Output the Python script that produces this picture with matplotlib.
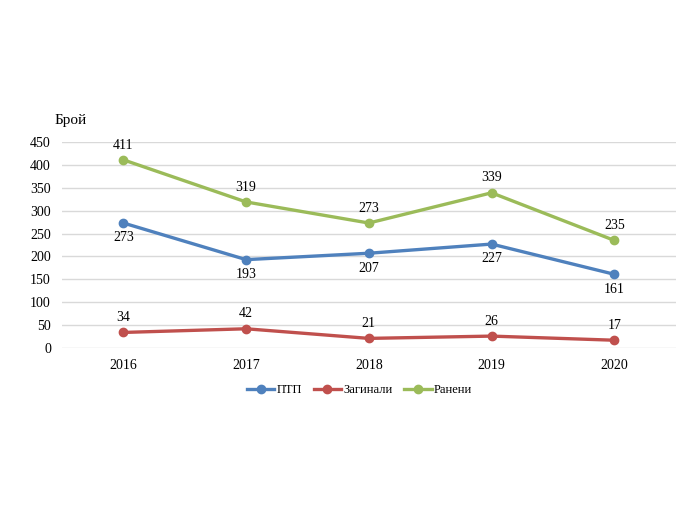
import matplotlib.pyplot as plt
import numpy as np

plt.rcParams['font.family'] = ['Liberation Serif', 'DejaVu Serif']

years = ['2016', '2017', '2018', '2019', '2020']
ptp = [273, 193, 207, 227, 161]
zaginali = [34, 42, 21, 26, 17]
raneni = [411, 319, 273, 339, 235]

fig = plt.figure(figsize=(6.86, 5.12), dpi=100)
ax = fig.add_axes([0.0904, 0.3203, 0.8946, 0.4024])

x = np.arange(len(years))
series = [
    (ptp, 'ПТП', '#4F81BD', 'below'),
    (zaginali, 'Загинали', '#C0504D', 'above'),
    (raneni, 'Ранени', '#9BBB59', 'above'),
]
for vals, name, col, pos in series:
    ax.plot(x, vals, color=col, lw=2.4, marker='o', ms=6, label=name)
    for xi, v in zip(x, vals):
        if pos == 'above':
            ax.annotate(str(v), (xi, v), xytext=(0, 6), textcoords='offset points',
                        ha='center', va='bottom', fontsize=10)
        else:
            ax.annotate(str(v), (xi, v), xytext=(0, -6), textcoords='offset points',
                        ha='center', va='top', fontsize=10)

ax.set_xlim(-0.5, len(years) - 0.5)
ax.set_ylim(0, 450)
ax.set_yticks(range(0, 451, 50))
ax.set_xticks(x)
ax.set_xticklabels(years)
ax.grid(axis='y', color='#d9d9d9', lw=1)
ax.set_axisbelow(True)
for s in ax.spines.values():
    s.set_visible(False)
ax.tick_params(length=0, labelsize=10, pad=8)
ax.tick_params(axis='y', pad=8)

fig.text(0.080, 0.752, 'Брой', fontsize=11, ha='left', va='bottom')

ax.legend(loc='upper center', bbox_to_anchor=(0.485, -0.12), ncol=3, frameon=False,
          fontsize=9, handlelength=2.2, columnspacing=0.9, handletextpad=0.2)

fig.savefig('out.png', dpi=100)
